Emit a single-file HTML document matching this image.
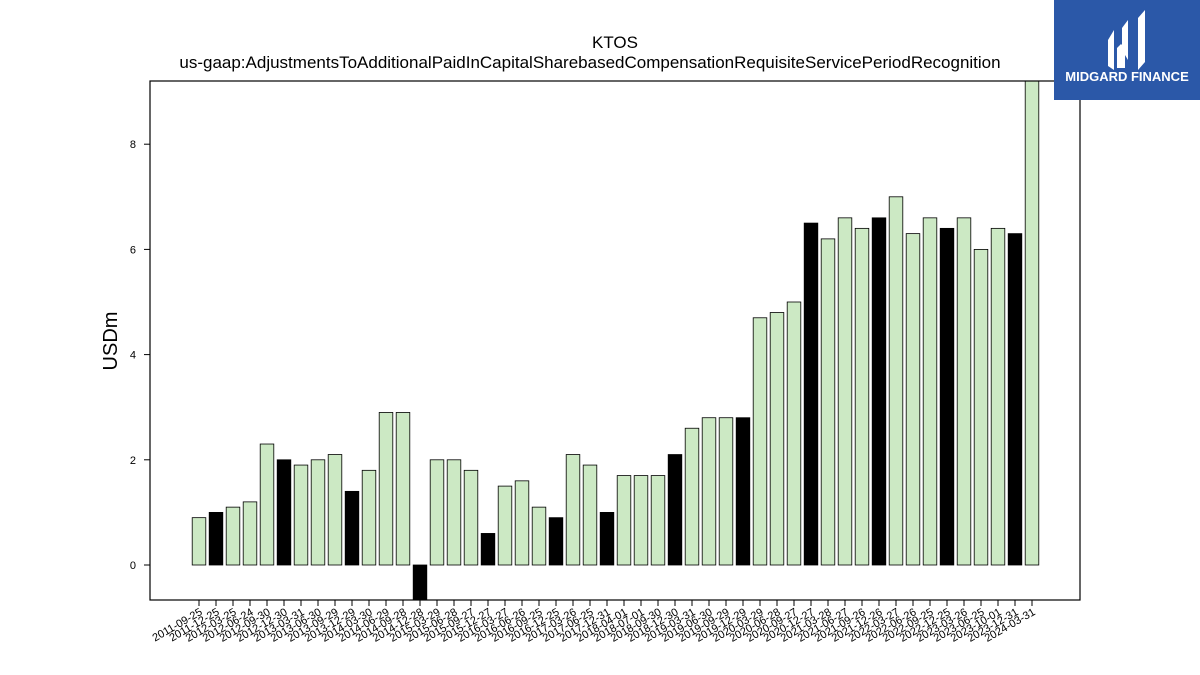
<!DOCTYPE html>
<html><head><meta charset="utf-8"><style>
html,body{margin:0;padding:0;background:#fff;width:1200px;height:675px;overflow:hidden;font-family:"Liberation Sans","DejaVu Sans",sans-serif}
</style></head><body>
<svg id="chart" width="1200" height="675" viewBox="0 0 1200 675" xmlns="http://www.w3.org/2000/svg">
<text x="615" y="48" font-size="17" text-anchor="middle">KTOS</text>
<text x="590" y="68" font-size="17" text-anchor="middle">us-gaap:AdjustmentsToAdditionalPaidInCapitalSharebasedCompensationRequisiteServicePeriodRecognition</text>
<text transform="translate(117,341) rotate(-90)" font-size="20" text-anchor="middle">USDm</text>
<defs><clipPath id="plotclip"><rect x="150" y="81" width="930" height="519"/></clipPath></defs>
<g id="bars" clip-path="url(#plotclip)"></g>
<g id="yticks"></g>
<g id="xticks"></g>
<rect x="150" y="81" width="930" height="519" fill="none" stroke="#000" stroke-width="1.2"/>
<g>
<rect x="1054" y="0" width="146" height="100" fill="#2b58a8"/>
<path d="M1108 40 L1114 30 L1114 70 L1108 66 Z M1122 28 L1128 20 L1128 60 L1122 50 Z M1117 48 L1121 44 L1125 48 L1125 68 L1117 68 Z M1138 18 L1145 10 L1145 62 L1138 70 Z" fill="#fff"/>
<text x="1127" y="81" font-size="13" font-weight="bold" fill="#fff" text-anchor="middle">MIDGARD FINANCE</text>
</g>
</svg>
<script>
const labels=["2011-09-25","2011-12-25","2012-03-25","2012-06-24","2012-09-30","2012-12-30","2013-03-31","2013-06-30","2013-09-29","2013-12-29","2014-03-30","2014-06-29","2014-09-28","2014-12-28","2015-03-29","2015-06-28","2015-09-27","2015-12-27","2016-03-27","2016-06-26","2016-09-25","2016-12-25","2017-03-26","2017-06-25","2017-12-31","2018-04-01","2018-07-01","2018-09-30","2018-12-30","2019-03-31","2019-06-30","2019-09-29","2019-12-29","2020-03-29","2020-06-28","2020-09-27","2020-12-27","2021-03-28","2021-06-27","2021-09-26","2021-12-26","2022-03-27","2022-06-26","2022-09-25","2022-12-25","2023-03-26","2023-06-25","2023-10-01","2023-12-31","2024-03-31"];
const values=[0.9,1.0,1.1,1.2,2.3,2.0,1.9,2.0,2.1,1.4,1.8,2.9,2.9,-1.0,2.0,2.0,1.8,0.6,1.5,1.6,1.1,0.9,2.1,1.9,1.0,1.7,1.7,1.7,2.1,2.6,2.8,2.8,2.8,4.7,4.8,5.0,6.5,6.2,6.6,6.4,6.6,7.0,6.3,6.6,6.4,6.6,6.0,6.4,6.3,10.0];
const annual=[0,1,0,0,0,1,0,0,0,1,0,0,0,1,0,0,0,1,0,0,0,1,0,0,1,0,0,0,1,0,0,0,1,0,0,0,1,0,0,0,1,0,0,0,1,0,0,0,1,0];
const yTicks=[0,2,4,6,8];
const NS="http://www.w3.org/2000/svg";
const y0=565,ppu=52.6;
function ys(v){return y0-v*ppu;}
const x0=199,step=(1032-199)/(labels.length-1);
function xs(i){return x0+i*step;}
const bw=step*0.8;
const gb=document.getElementById('bars'),gy=document.getElementById('yticks'),gx=document.getElementById('xticks');
values.forEach((v,i)=>{
 const r=document.createElementNS(NS,'rect');
 
 
 const top=Math.min(ys(v),y0),h=Math.abs(ys(v)-y0);
 r.setAttribute('x',xs(i)-bw/2);r.setAttribute('y',top);r.setAttribute('width',bw);r.setAttribute('height',h);
 r.setAttribute('fill',annual[i]?'#000':'#cce9c4');r.setAttribute('stroke','#000');r.setAttribute('stroke-width','0.8');
 gb.appendChild(r);
});
yTicks.forEach(t=>{
 const l=document.createElementNS(NS,'line');
 
 
 l.setAttribute('x1',144);l.setAttribute('x2',150);l.setAttribute('y1',ys(t));l.setAttribute('y2',ys(t));l.setAttribute('stroke','#000');
 gy.appendChild(l);
 const tx=document.createElementNS(NS,'text');
 
 
 tx.setAttribute('x',136);tx.setAttribute('y',ys(t)+4);tx.setAttribute('font-size','11');tx.setAttribute('text-anchor','end');
 tx.textContent=t;gy.appendChild(tx);
});
labels.forEach((lb,i)=>{
 const l=document.createElementNS(NS,'line');
 
 
 l.setAttribute('x1',xs(i));l.setAttribute('x2',xs(i));l.setAttribute('y1',600);l.setAttribute('y2',606);l.setAttribute('stroke','#000');
 gx.appendChild(l);
 const tx=document.createElementNS(NS,'text');
 
 
 tx.setAttribute('font-size','11');tx.setAttribute('text-anchor','end');
 tx.setAttribute('transform','translate('+(xs(i)+4)+',614) rotate(-30)');
 tx.textContent=lb;gx.appendChild(tx);
});
</script>
</body></html>
